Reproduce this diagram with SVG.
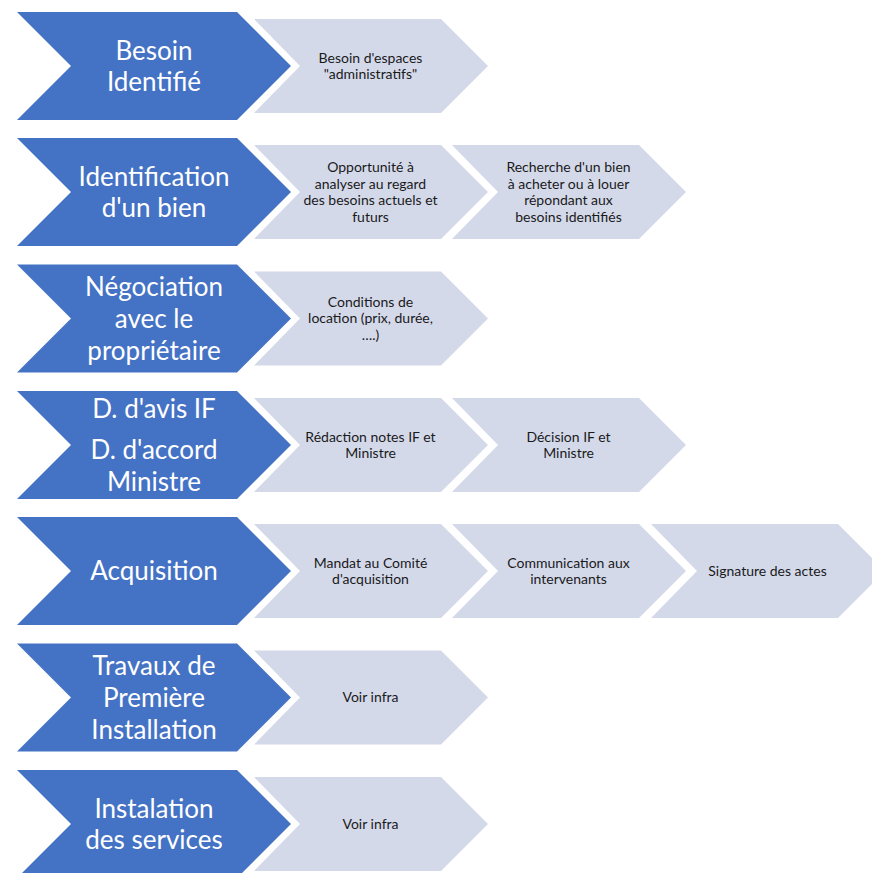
<svg xmlns="http://www.w3.org/2000/svg" width="872" height="873" viewBox="0 0 872 873">
<style>
.blue{fill:#4472C4}
.light{fill:#D4D9EA}
.bt{font-family:Lato,"Open Sans","Liberation Sans",sans-serif;font-size:26px;fill:#FFFFFF;text-anchor:middle}
.lt{font-family:Lato,"Open Sans","Liberation Sans",sans-serif;font-size:14px;fill:#1A1A1A;text-anchor:middle}
</style>
<rect width="872" height="873" fill="#FFFFFF"/>
<g id="connectors"/>
<!-- Row 1 -->
<g id="row1-main">
<polygon class="blue" points="17,12 237,12 291,66 237,120 17,120 71,66"/>
<text class="bt" x="154" y="59.5">Besoin</text>
<text class="bt" x="154" y="90.5">Identifié</text>
</g>
<g id="row1-step1">
<polygon class="light" points="254,19 441,19 488,66 441,113 254,113 300,66"/>
<text class="lt" x="370.5" y="62.5">Besoin d'espaces</text>
<text class="lt" x="370.5" y="79">"administratifs"</text>
</g>
<!-- Row 2 -->
<g id="row2-main">
<polygon class="blue" points="17,138 237,138 291,192 237,246 17,246 71,192"/>
<text class="bt" x="154" y="185.5">Identification</text>
<text class="bt" x="154" y="216.5">d'un bien</text>
</g>
<g id="row2-step1">
<polygon class="light" points="254,145 441,145 488,192 441,239 254,239 300,192"/>
<text class="lt" x="370.5" y="172">Opportunité à</text>
<text class="lt" x="370.5" y="188.5">analyser au regard</text>
<text class="lt" x="370.5" y="205">des besoins actuels et</text>
<text class="lt" x="370.5" y="221.5">futurs</text>
</g>
<g id="row2-step2">
<polygon class="light" points="452,145 639,145 686,192 639,239 452,239 498,192"/>
<text class="lt" x="568.5" y="172">Recherche d'un bien</text>
<text class="lt" x="568.5" y="188.5">à acheter ou à louer</text>
<text class="lt" x="568.5" y="205">répondant aux</text>
<text class="lt" x="568.5" y="221.5">besoins identifiés</text>
</g>
<!-- Row 3 -->
<g id="row3-main">
<polygon class="blue" points="17,264.5 237,264.5 291,318.5 237,372.5 17,372.5 71,318.5"/>
<text class="bt" x="154" y="295.5">Négociation</text>
<text class="bt" x="154" y="327.5">avec le</text>
<text class="bt" x="154" y="359.5">propriétaire</text>
</g>
<g id="row3-step1">
<polygon class="light" points="254,271.5 441,271.5 488,318.5 441,365.5 254,365.5 300,318.5"/>
<text class="lt" x="370.5" y="306.75">Conditions de</text>
<text class="lt" x="370.5" y="323.25">location (prix, durée,</text>
<text class="lt" x="370.5" y="339.75">….)</text>
</g>
<!-- Row 4 -->
<g id="row4-main">
<polygon class="blue" points="17,391 237,391 291,445 237,499 17,499 71,445"/>
<text class="bt" x="154" y="418">D. d'avis IF</text>
<text class="bt" x="154" y="459">D. d'accord</text>
<text class="bt" x="154" y="491">Ministre</text>
</g>
<g id="row4-step1">
<polygon class="light" points="254,398 441,398 488,445 441,492 254,492 300,445"/>
<text class="lt" x="370.5" y="441.5">Rédaction notes IF et</text>
<text class="lt" x="370.5" y="458">Ministre</text>
</g>
<g id="row4-step2">
<polygon class="light" points="452,398 639,398 686,445 639,492 452,492 498,445"/>
<text class="lt" x="568.5" y="441.5">Décision IF et</text>
<text class="lt" x="568.5" y="458">Ministre</text>
</g>
<!-- Row 5 -->
<g id="row5-main">
<polygon class="blue" points="17,517 237,517 291,571 237,625 17,625 71,571"/>
<text class="bt" x="154" y="580">Acquisition</text>
</g>
<g id="row5-step1">
<polygon class="light" points="254,524 441,524 488,571 441,618 254,618 300,571"/>
<text class="lt" x="370.5" y="567.5">Mandat au Comité</text>
<text class="lt" x="370.5" y="584">d'acquisition</text>
</g>
<g id="row5-step2">
<polygon class="light" points="452,524 639,524 686,571 639,618 452,618 498,571"/>
<text class="lt" x="568.5" y="567.5">Communication aux</text>
<text class="lt" x="568.5" y="584">intervenants</text>
</g>
<g id="row5-step3">
<polygon class="light" points="651,524 838,524 885,571 838,618 651,618 697,571"/>
<text class="lt" x="767.5" y="575.75">Signature des actes</text>
</g>
<!-- Row 6 -->
<g id="row6-main">
<polygon class="blue" points="17,643.5 237,643.5 291,697.5 237,751.5 17,751.5 71,697.5"/>
<text class="bt" x="154" y="674.5">Travaux de</text>
<text class="bt" x="154" y="706.5">Première</text>
<text class="bt" x="154" y="738.5">Installation</text>
</g>
<g id="row6-step1">
<polygon class="light" points="254,650.5 441,650.5 488,697.5 441,744.5 254,744.5 300,697.5"/>
<text class="lt" x="370.5" y="702.25">Voir infra</text>
</g>
<!-- Row 7 -->
<g id="row7-main">
<polygon class="blue" points="17,770 237,770 291,824 237,878 17,878 71,824"/>
<text class="bt" x="154" y="817.5">Instalation</text>
<text class="bt" x="154" y="848.5">des services</text>
</g>
<g id="row7-step1">
<polygon class="light" points="254,777 441,777 488,824 441,871 254,871 300,824"/>
<text class="lt" x="370.5" y="828.75">Voir infra</text>
</g>
</svg>
